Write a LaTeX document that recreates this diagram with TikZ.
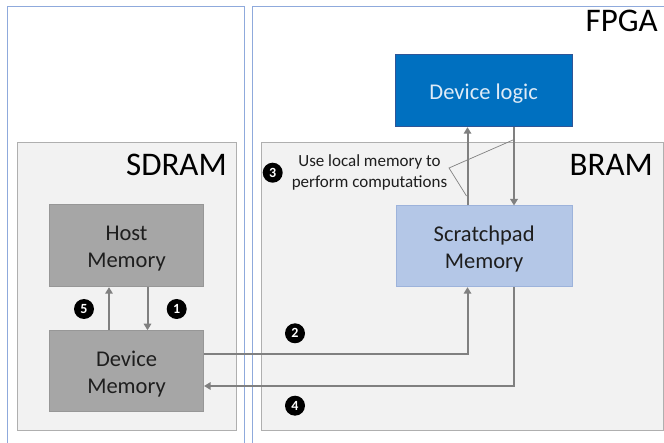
\documentclass[tikz,border=0pt]{standalone}
\usepackage{fontspec}
\setmainfont{Carlito}
\usetikzlibrary{arrows.meta}
\definecolor{outerblue}{HTML}{8FAADC}
\definecolor{panelfill}{HTML}{F2F2F2}
\definecolor{panelline}{HTML}{AFAFAF}
\definecolor{memfill}{HTML}{A6A6A6}
\definecolor{memline}{HTML}{979797}
\definecolor{scrfill}{HTML}{B4C7E7}
\definecolor{scrline}{HTML}{9DB3DB}
\definecolor{logicfill}{HTML}{0070C0}
\definecolor{logicline}{HTML}{2F5597}
\definecolor{logictext}{HTML}{DEEBF7}
\definecolor{arrgray}{HTML}{808080}
\definecolor{txt}{HTML}{1E1E1E}
\begin{document}
\begin{tikzpicture}[x=1pt,y=-1pt,
  outerline/.style={draw=outerblue,line width=1pt},
  panel/.style={draw=panelline,fill=panelfill,line width=1pt},
  title/.style={font=\fontsize{33}{36}\selectfont,text=black,inner sep=0pt,anchor=base east},
  boxtext/.style={font=\fontsize{22.5}{27}\selectfont,align=center,inner sep=0pt},
  inlabel/.style={label={[boxtext,text=#1,yshift=-3pt]center:{}}},
  membox/.style={draw=memline,fill=memfill,line width=1pt},
  scrbox/.style={draw=scrline,fill=scrfill,line width=1pt},
  logicbox/.style={draw=logicline,fill=logicfill,line width=1pt},
  arr/.style={draw=arrgray,line width=2pt,-{Triangle[width=7.5pt,length=6.5pt]}},
  callout/.style={draw=arrgray,line width=0.7pt},
  num/.style={circle,fill=black,text=white,inner sep=0pt,minimum size=20pt,font=\fontsize{14}{14}\selectfont\bfseries},
  note/.style={font=\fontsize{17}{21}\selectfont,align=center,text=txt,inner sep=0pt}]
\useasboundingbox (0,0) rectangle (664,443);
\fill[white] (0,0) rectangle (664,443);
% outer regions
\draw[outerline] (7,443) -- (7,7) -- (244,7) -- (244,443);
\draw[outerline] (252,443) -- (252,7) -- (664,7);
% panels
\path[panel] (17,143) rectangle (236,430.5);
\path[panel] (261,143) rectangle (663.5,430.5);
% titles
\node[title] (fpga) at (658,32) {FPGA};
\node[title] (sdram) at (227,175.7) {SDRAM};
\node[title] (bram) at (653,175.7) {BRAM};
% boxes
\node[membox,minimum width=154.4pt,minimum height=81.7pt,
  label={[boxtext,text=txt,yshift=-3pt]center:{Host\\Memory}}] (host) at (126.5,245.85) {};
\node[membox,minimum width=154.2pt,minimum height=81pt,
  label={[boxtext,text=txt,yshift=-3pt]center:{Device\\Memory}}] (devmem) at (126.5,371.2) {};
\node[scrbox,minimum width=176.3pt,minimum height=80.7pt,
  label={[boxtext,text=txt,yshift=-3pt]center:{Scratchpad\\Memory}}] (scratch) at (484.15,246.35) {};
\node[logicbox,minimum width=177.3pt,minimum height=71.7pt,
  label={[boxtext,text=logictext,yshift=-2.5pt]center:{Device logic}}] (logic) at (483.65,90.85) {};
% helper coordinates
\coordinate (xa) at (109,0);
\coordinate (xb) at (147.5,0);
\coordinate (xc) at (467.5,0);
\coordinate (xd) at (514,0);
\coordinate (ya) at (0,354);
\coordinate (yb) at (0,386);
% connectors
\draw[arr] (devmem.north -| xa) -- (host.south -| xa);
\draw[arr] (host.south -| xb) -- (devmem.north -| xb);
\draw[arr] (devmem.east |- ya) -| (scratch.south -| xc);
\draw[arr] (scratch.south -| xd) |- (devmem.east |- yb);
\draw[arr] (scratch.north -| xc) -- (logic.south -| xc);
\draw[arr] (logic.south -| xd) -- (scratch.north -| xd);
% callout
\node[note] (calltext) at (369.5,172.5) {Use local memory to\\perform computations};
\coordinate (cv) at (449,168);
\coordinate (ce1) at (466.5,196);
\coordinate (ce2) at (513,140);
\draw[callout] (ce1) -- (cv) -- (ce2);
% step numbers
\node[num] (n1) at (176.7,309) {1};
\node[num] (n2) at (295,333.3) {2};
\node[num] (n3) at (272.7,172.7) {3};
\node[num] (n4) at (295,405.7) {4};
\node[num] (n5) at (84,309) {5};
\end{tikzpicture}
\end{document}
